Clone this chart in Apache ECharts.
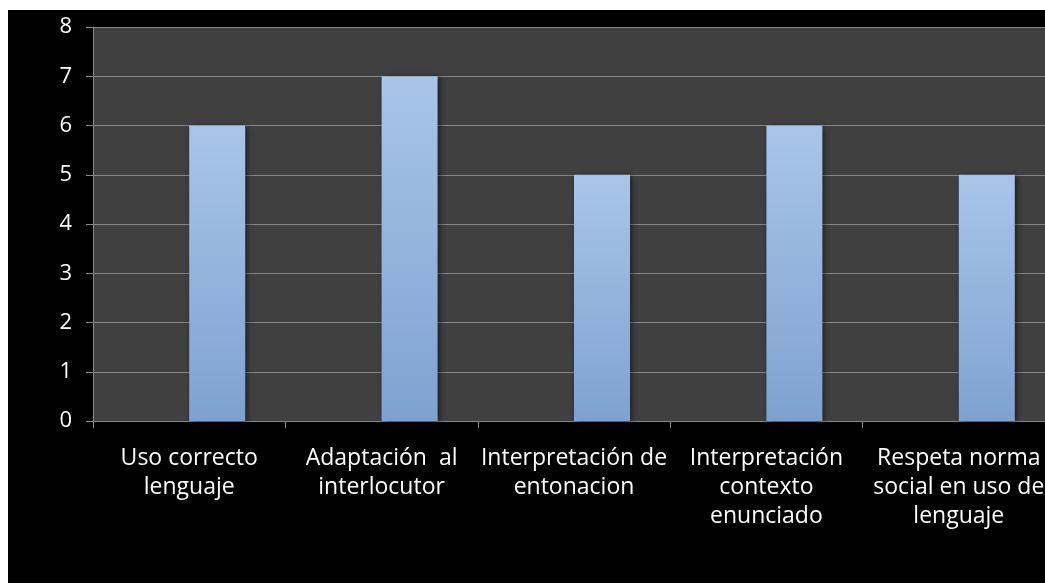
<!DOCTYPE html>
<html>
<head>
<meta charset="utf-8">
<script src="https://cdn.jsdelivr.net/npm/echarts@6/dist/echarts.min.js"></script>
<style>
html,body{margin:0;padding:0;background:#fff;overflow:hidden;width:1045px;height:583px;}
#c{position:absolute;left:8px;top:10px;width:1060px;height:573px;background:#000;}
</style>
</head>
<body>
<div id="c"></div>
<script>
const categories = [
  "Uso correcto\nlenguaje",
  "Adaptación  al\ninterlocutor",
  "Interpretación de\nentonacion",
  "Interpretación\ncontexto\nenunciado",
  "Respeta norma\nsocial en uso de\nlenguaje"
];
const emptySeries = [null, null, null, null, null];
const values = [6, 7, 5, 6, 5];
const yTicks = { min: 0, max: 8, interval: 1 };

const chart = echarts.init(document.getElementById('c'), null, {renderer: 'canvas'});
const font = "'Open Sans', 'Liberation Sans', sans-serif";
chart.setOption({
  backgroundColor: '#000',
  animation: false,
  grid: {
    left: 85, top: 17, width: 962, height: 394,
    show: true, backgroundColor: '#404040', borderWidth: 0
  },
  xAxis: {
    type: 'category',
    data: categories,
    axisLine: {show: true, lineStyle: {color: '#868686', width: 1}},
    axisTick: {show: true, length: 7, lineStyle: {color: '#868686'}},
    axisLabel: {
      color: '#fff', fontSize: 23, fontFamily: font, lineHeight: 29,
      margin: 23, interval: 0
    },
    splitLine: {show: false}
  },
  yAxis: {
    type: 'value',
    min: yTicks.min, max: yTicks.max, interval: yTicks.interval,
    axisLine: {show: true, lineStyle: {color: '#868686', width: 1}},
    axisTick: {show: true, length: 7, lineStyle: {color: '#868686'}},
    axisLabel: {color: '#fff', fontSize: 22, fontFamily: font, margin: 21},
    splitLine: {show: true, lineStyle: {color: '#868686', width: 1}}
  },
  series: [
    {
      type: 'bar', data: emptySeries, barWidth: 56, barGap: '0%'
    },
    {
      type: 'bar', data: values, barWidth: 56, barGap: '0%',
      itemStyle: {
        color: new echarts.graphic.LinearGradient(0, 0, 0, 1, [
          {offset: 0, color: '#a8c5e9'},
          {offset: 1, color: '#7ea2d0'}
        ]),
        shadowColor: 'rgba(0,0,0,0.55)', shadowBlur: 6, shadowOffsetX: 2, shadowOffsetY: 1
      }
    }
  ]
});
</script>
</body>
</html>
